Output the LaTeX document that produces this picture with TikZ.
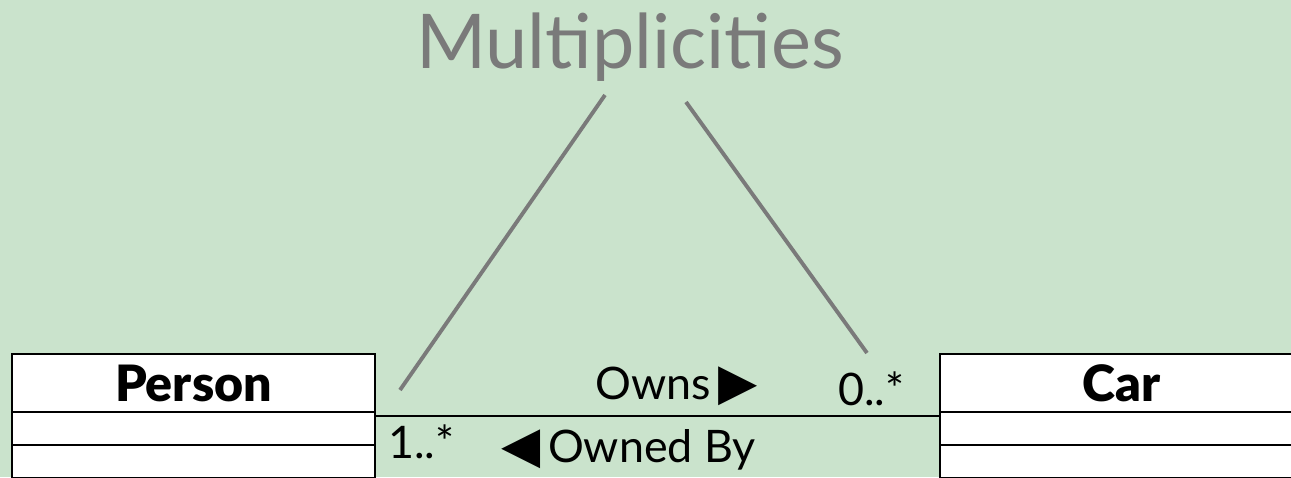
\documentclass[tikz,border=0pt]{standalone}
\usepackage{fontspec}
\setmainfont{Lato}
\newfontfamily\heavyfont{Lato Black}
\newfontfamily\symfont{DejaVu Sans}
\usepackage{tikz}
\usetikzlibrary{positioning}
\definecolor{slidebg}{RGB}{202,227,204}
\definecolor{calloutgray}{RGB}{122,122,122}
\tikzset{
  classhead/.style = {draw,fill=white,line width=1.1pt,minimum width=7.26cm,minimum height=1.16cm,
                      inner sep=0pt,outer sep=0pt,font=\heavyfont\fontsize{28.5}{28}\selectfont},
  classpart/.style = {draw,fill=white,line width=1.1pt,minimum width=7.26cm,minimum height=0.66cm,
                      inner sep=0pt,outer sep=0pt},
  multlabel/.style = {inner sep=0pt,anchor=base west,font=\fontsize{25.5}{26}\selectfont},
  callout/.style   = {calloutgray,line width=2.2pt},
  assoc/.style     = {line width=1.6pt}
}
\newcommand{\rarr}{{\symfont\fontsize{29}{29}\selectfont\char"25B6}}
\newcommand{\larr}{{\symfont\fontsize{29}{29}\selectfont\char"25C0}}

\begin{document}
\begin{tikzpicture}[x=0.02cm,y=-0.02cm]
  \useasboundingbox[fill=slidebg] (0,0) rectangle (1291,477);
  \node[inner sep=0pt,anchor=base,calloutgray,font=\fontsize{43}{43}\selectfont] (title) at (630,68) {Multiplicities};
  \node[classhead] (person) at (193.5,383) {Person};
  \node[classpart,below=0pt of person] (personattr) {};
  \node[classpart,below=0pt of personattr] (personops) {};
  \node[classhead] (car) at (1121.5,383) {Car};
  \node[classpart,below=0pt of car] (carattr) {};
  \node[classpart,below=0pt of carattr] (carops) {};
  \draw[assoc] ([yshift=-0.08cm]person.south east) -- ([yshift=-0.08cm]car.south west);
  \node[multlabel] (owns) at (595,399) {Owns\,\rarr};
  \node[multlabel] (carmult) at (838,405) {0..*};
  \node[multlabel] (personmult) at (388,458) {1..*};
  \node[multlabel] (ownedby) at (501,462) {\larr\,Owned By};
  \coordinate (lefttop) at (605,95);
  \coordinate (leftend) at (400,390);
  \coordinate (righttop) at (686,102);
  \coordinate (rightend) at (867,353);
  \draw[callout] (lefttop) -- (leftend);
  \draw[callout] (righttop) -- (rightend);
\end{tikzpicture}
\end{document}
